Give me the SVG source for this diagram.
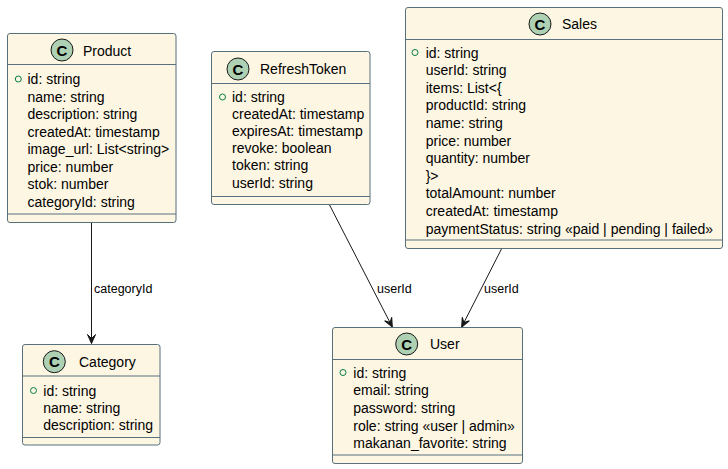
<svg xmlns="http://www.w3.org/2000/svg" width="728" height="469" viewBox="0 0 728 469">
<defs>
<style>
.box{fill:#FDF6E3;stroke:#56707E;stroke-width:1}
.sep{stroke:#56707E;stroke-width:1}
.ic{fill:#ADD1B2;stroke:#181818;stroke-width:1}
.icl{font-family:"Liberation Sans",Arial,sans-serif;font-size:15px;font-weight:bold;fill:#000;text-anchor:middle}
.title{font-family:"Liberation Sans",Arial,sans-serif;font-size:14px;fill:#000}
.attr{font-family:"Liberation Sans",Arial,sans-serif;font-size:14px;fill:#000}
.vis{fill:none;stroke:#038048;stroke-width:1}
.edge{stroke:#181818;stroke-width:1;fill:none}
.lbl{font-family:"Liberation Sans",Arial,sans-serif;font-size:12.5px;fill:#000}
</style>
<marker id="arr" markerUnits="userSpaceOnUse" markerWidth="12" markerHeight="10" viewBox="-10 -5 11 10" refX="0" refY="0" orient="auto" overflow="visible">
<path d="M0,0 L-9,-4 L-5,0 L-9,4 Z" fill="#181818" stroke="#181818" stroke-width="1"/>
</marker>
</defs>
<rect width="728" height="469" fill="#FFFFFF"/>

<g id="connectors">
<path class="edge" d="M91.5,222.5 L91.5,343.5" marker-end="url(#arr)"/>
<text class="lbl" x="94" y="293">categoryId</text>
<path class="edge" d="M329.3,204.5 L392.3,327" marker-end="url(#arr)"/>
<text class="lbl" x="377" y="293">userId</text>
<path class="edge" d="M501.7,248.5 L461.7,327" marker-end="url(#arr)"/>
<text class="lbl" x="484" y="293">userId</text>
</g>

<g id="Product">
<rect class="box" x="7.5" y="33.5" width="168.5" height="189" rx="2.5"/>
<line class="sep" x1="7.5" y1="64.5" x2="176" y2="64.5"/>
<line class="sep" x1="7.5" y1="214" x2="176" y2="214"/>
<circle class="ic" cx="62" cy="50" r="11"/>
<text class="icl" x="62" y="55.5">C</text>
<text class="title" x="83" y="55.5">Product</text>
<circle class="vis" cx="18.3" cy="79" r="3"/>
<text class="attr" x="27.5" y="84">id: string</text>
<text class="attr" x="27.5" y="101.5">name: string</text>
<text class="attr" x="27.5" y="119">description: string</text>
<text class="attr" x="27.5" y="136.5">createdAt: timestamp</text>
<text class="attr" x="27.5" y="154">image_url: List&lt;string&gt;</text>
<text class="attr" x="27.5" y="171.5">price: number</text>
<text class="attr" x="27.5" y="189">stok: number</text>
<text class="attr" x="27.5" y="206.5">categoryId: string</text>
</g>

<g id="RefreshToken">
<rect class="box" x="211.5" y="51.5" width="158.5" height="153" rx="2.5"/>
<line class="sep" x1="211.5" y1="83.5" x2="370" y2="83.5"/>
<line class="sep" x1="211.5" y1="196.5" x2="370" y2="196.5"/>
<circle class="ic" cx="238" cy="69" r="11"/>
<text class="icl" x="238" y="74.5">C</text>
<text class="title" x="260" y="74">RefreshToken</text>
<circle class="vis" cx="222.5" cy="97" r="3"/>
<text class="attr" x="232" y="102">id: string</text>
<text class="attr" x="232" y="119.1">createdAt: timestamp</text>
<text class="attr" x="232" y="136.2">expiresAt: timestamp</text>
<text class="attr" x="232" y="153.3">revoke: boolean</text>
<text class="attr" x="232" y="170.4">token: string</text>
<text class="attr" x="232" y="187.5">userId: string</text>
</g>

<g id="Sales">
<rect class="box" x="405.5" y="7.5" width="317" height="241" rx="2.5"/>
<line class="sep" x1="405.5" y1="39.5" x2="722.5" y2="39.5"/>
<line class="sep" x1="405.5" y1="240" x2="722.5" y2="240"/>
<circle class="ic" cx="540" cy="24" r="11"/>
<text class="icl" x="540" y="29.5">C</text>
<text class="title" x="562" y="29">Sales</text>
<circle class="vis" cx="415" cy="52.5" r="3"/>
<text class="attr" x="425.7" y="57.5">id: string</text>
<text class="attr" x="425.7" y="75.1">userId: string</text>
<text class="attr" x="425.7" y="92.7">items: List&lt;{</text>
<text class="attr" x="425.7" y="110.3">productId: string</text>
<text class="attr" x="425.7" y="127.9">name: string</text>
<text class="attr" x="425.7" y="145.5">price: number</text>
<text class="attr" x="425.7" y="163.1">quantity: number</text>
<text class="attr" x="425.7" y="180.7">}&gt;</text>
<text class="attr" x="425.7" y="198.3">totalAmount: number</text>
<text class="attr" x="425.7" y="215.9">createdAt: timestamp</text>
<text class="attr" x="425.7" y="233.5">paymentStatus: string «paid | pending | failed»</text>
</g>

<g id="Category">
<rect class="box" x="22.5" y="344.5" width="137.5" height="100.5" rx="2.5"/>
<line class="sep" x1="22.5" y1="376" x2="160" y2="376"/>
<line class="sep" x1="22.5" y1="437.5" x2="160" y2="437.5"/>
<circle class="ic" cx="54.3" cy="361.7" r="11"/>
<text class="icl" x="54.3" y="367.2">C</text>
<text class="title" x="79" y="366.5">Category</text>
<circle class="vis" cx="33.5" cy="390.5" r="3"/>
<text class="attr" x="43.3" y="395.5">id: string</text>
<text class="attr" x="43.3" y="412.7">name: string</text>
<text class="attr" x="43.3" y="429.9">description: string</text>
</g>

<g id="User">
<rect class="box" x="332.5" y="327.5" width="190" height="136" rx="2.5"/>
<line class="sep" x1="332.5" y1="359.5" x2="522.5" y2="359.5"/>
<line class="sep" x1="332.5" y1="455" x2="522.5" y2="455"/>
<circle class="ic" cx="406.7" cy="344" r="11"/>
<text class="icl" x="406.7" y="349.5">C</text>
<text class="title" x="430" y="349">User</text>
<circle class="vis" cx="343" cy="372.5" r="3"/>
<text class="attr" x="353.3" y="377.5">id: string</text>
<text class="attr" x="353.3" y="395.2">email: string</text>
<text class="attr" x="353.3" y="412.9">password: string</text>
<text class="attr" x="353.3" y="430.6">role: string «user | admin»</text>
<text class="attr" x="353.3" y="448.3">makanan_favorite: string</text>
</g>
</svg>
